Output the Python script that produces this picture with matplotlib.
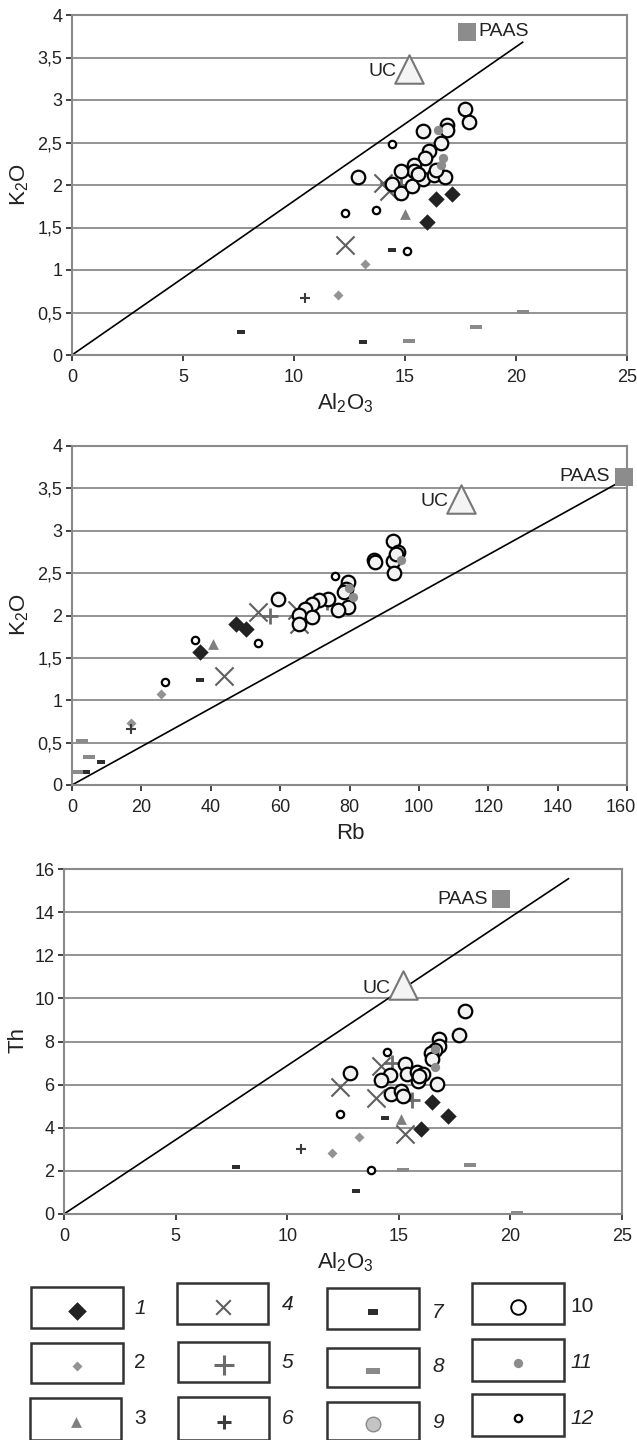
import matplotlib
matplotlib.use("Agg")
import matplotlib.pyplot as plt
import matplotlib.transforms as mtransforms
from matplotlib.patches import Rectangle

plt.rcParams['font.family'] = ['Liberation Sans', 'DejaVu Sans']
plt.rcParams['mathtext.fontset'] = 'custom'
plt.rcParams['mathtext.rm'] = 'Liberation Sans'
plt.rcParams['mathtext.it'] = 'Liberation Sans:italic'
plt.rcParams['mathtext.default'] = 'regular'

# ---------------- DATA ----------------
# Panel A: K2O vs Al2O3
A_s1 = [(16.4, 1.84), (17.1, 1.89), (16.0, 1.56)]
A_s2 = [(13.2, 1.07), (12.0, 0.71)]
A_s3 = [(15.0, 1.66)]
A_s4 = [(12.3, 1.29), (14.0, 2.02), (14.3, 1.93)]
A_s5 = [(14.8, 2.0)]
A_s6 = [(10.5, 0.67)]
A_s7 = [(7.6, 0.27), (13.1, 0.15), (14.4, 1.24)]
A_s8 = [(15.2, 0.16), (18.2, 0.33), (20.3, 0.51)]
A_s10 = [(17.7, 2.89), (17.9, 2.74), (15.8, 2.63), (16.9, 2.71), (16.9, 2.65),
         (16.6, 2.50), (16.1, 2.40), (15.9, 2.32), (15.4, 2.24), (15.4, 2.17),
         (14.8, 2.17), (12.9, 2.09), (14.4, 2.01), (14.8, 1.91), (15.3, 1.99),
         (15.8, 2.07), (16.3, 2.12), (16.8, 2.09), (16.4, 2.18), (15.6, 2.13)]
A_s11 = [(16.5, 2.65), (16.7, 2.32), (16.6, 2.23)]
A_s12 = [(14.4, 2.48), (12.3, 1.67), (13.7, 1.71), (15.1, 1.22)]
A_line = [(0, 0), (20.3, 3.68)]
A_UC = (15.2, 3.37)
A_PAAS = (17.8, 3.8)

# Panel B: K2O vs Rb
B_s1 = [(47.2, 1.90), (50.2, 1.84), (37.0, 1.57)]
B_s2 = [(25.7, 1.07), (16.9, 0.73)]
B_s3 = [(40.7, 1.66)]
B_s4 = [(43.7, 1.29), (53.7, 2.04), (64.9, 2.07), (65.5, 1.90)]
B_s5 = [(57.0, 2.0), (73.5, 2.16)]
B_s6 = [(17.0, 0.66)]
B_s7 = [(37.0, 1.24), (8.3, 0.27), (4.1, 0.15)]
B_s8 = [(3.0, 0.52), (5.0, 0.33), (1.5, 0.15)]
B_s10 = [(92.4, 2.88), (93.9, 2.75), (92.4, 2.64), (92.9, 2.50), (87.0, 2.66),
         (87.3, 2.63), (79.7, 2.40), (79.1, 2.31), (78.3, 2.28), (79.7, 2.10),
         (76.7, 2.06), (73.8, 2.19), (71.2, 2.18), (69.1, 2.13), (67.3, 2.08),
         (65.5, 2.01), (59.4, 2.19), (65.5, 1.90), (69.1, 1.98), (93.5, 2.72)]
B_s11 = [(94.8, 2.65), (79.9, 2.33), (81.1, 2.22)]
B_s12 = [(75.9, 2.47), (35.4, 1.71), (53.7, 1.67), (26.9, 1.22)]
B_line = [(0, 0), (159, 3.6)]
B_UC = (112, 3.38)
B_PAAS = (159, 3.64)

# Panel C: Th vs Al2O3
C_s1 = [(16.5, 5.2), (17.2, 4.55), (16.0, 3.95)]
C_s2 = [(13.2, 3.55), (12.0, 2.85)]
C_s3 = [(15.1, 4.4)]
C_s4 = [(12.35, 5.9), (14.2, 6.85), (14.0, 5.4), (15.3, 3.7)]
C_s5 = [(14.7, 7.0), (15.6, 5.3), (15.3, 10.35)]
C_s6 = [(10.6, 3.0)]
C_s7 = [(7.7, 2.2), (13.1, 1.05), (14.4, 4.45)]
C_s8 = [(15.2, 2.05), (18.2, 2.25), (20.3, 0.05)]
C_s10 = [(17.95, 9.43), (17.7, 8.3), (16.8, 8.1), (16.8, 7.8), (16.6, 7.6),
         (16.45, 7.45), (16.5, 7.2), (12.8, 6.55), (15.3, 6.95), (14.6, 6.45),
         (14.2, 6.2), (15.35, 6.5), (15.8, 6.6), (16.1, 6.5), (15.85, 6.15),
         (16.7, 6.05), (14.65, 5.55), (15.1, 5.7), (15.2, 5.45), (15.9, 6.4)]
C_s11 = [(16.6, 7.65), (16.6, 6.8)]
C_s12 = [(14.45, 7.5), (12.35, 4.65), (13.75, 2.05)]
C_line = [(0, 0), (22.6, 15.55)]
C_UC = (15.2, 10.6)
C_PAAS = (19.6, 14.6)

A_xticks = [0, 5, 10, 15, 20, 25]
B_xticks = [0, 20, 40, 60, 80, 100, 120, 140, 160]
K_yticks = [0, 0.5, 1, 1.5, 2, 2.5, 3, 3.5, 4]
K_yticklabels = ['0', '0,5', '1', '1,5', '2', '2,5', '3', '3,5', '4']
C_yticks = [0, 2, 4, 6, 8, 10, 12, 14, 16]

legend_labels = ['1', '2', '3', '4', '5', '6', '7', '8', '9', '10', '11', '12']

# ---------------- STYLES ----------------
W, H = 637, 1440
rect7 = [(-1, -0.6), (1, -0.6), (1, 0.6), (-1, 0.6)]
rect8 = [(-1, -0.4), (1, -0.4), (1, 0.4), (-1, 0.4)]
STY = {
    1: dict(marker='D', s=70, c='#222222', linewidths=0),
    2: dict(marker='D', s=26, c='#939393', linewidths=0),
    3: dict(marker='^', s=60, c='#7f7f7f', linewidths=0),
    4: dict(marker='x', s=170, c='#5f5f5f', linewidths=1.5),
    5: dict(marker='+', s=130, c='#6a6a6a', linewidths=2.0),
    6: dict(marker='+', s=55, c='#3c3c3c', linewidths=1.5),
    7: dict(marker=rect7, s=30, c='#2e2e2e', linewidths=0),
    8: dict(marker=rect8, s=75, c='#8a8a8a', linewidths=0),
    9: dict(marker='o', s=90, c='#c4c4c4', edgecolors='#8a8a8a', linewidths=1.0),
    10: dict(marker='o', s=95, c='#f2f2f2', edgecolors='black', linewidths=1.6),
    11: dict(marker='o', s=45, c='#8c8c8c', linewidths=0),
    12: dict(marker='o', s=28, c='white', edgecolors='black', linewidths=1.6),
}
GRID = '#8a8a8a'
TICKFS = 13


def fx(px):
    return px / W


def fy(py):
    return 1 - py / H


fig = plt.figure(figsize=(W / 100, H / 100), dpi=100)


def panel(rect_px, series, line, uc, paas, xlim, xticks, ylim, yticks, yticklabels,
          uc_off, paas_off, paas_ha):
    l, t, r, b = rect_px
    ax = fig.add_axes([fx(l), fy(b), fx(r) - fx(l), fy(t) - fy(b)])
    ax.set_xlim(*xlim)
    ax.set_ylim(*ylim)
    ax.set_xticks(xticks)
    ax.set_yticks(yticks)
    ax.set_yticklabels(yticklabels if yticklabels else [str(v) for v in yticks])
    ax.set_xticklabels([str(v) for v in xticks])
    ax.grid(axis='y', color=GRID, lw=1.3)
    ax.set_axisbelow(True)
    for sp in ax.spines.values():
        sp.set_color(GRID)
        sp.set_linewidth(1.5)
    ax.tick_params(axis='both', labelsize=TICKFS, colors='#222222', length=4,
                   width=1.2, direction='out', pad=3)
    ax.tick_params(axis='x', pad=6)
    lx, ly = zip(*line)
    ax.plot(lx, ly, color='black', lw=1.2, zorder=2)
    order = [7, 8, 2, 6, 3, 1, 5, 4, 10, 12, 11]
    for k in order:
        if k in series and series[k]:
            xs, ys = zip(*series[k])
            ax.scatter(xs, ys, zorder=3, **STY[k])
    ax.scatter([uc[0]], [uc[1]], marker='^', s=420, c='#f4f4f4', edgecolors='#777777',
               linewidths=1.5, zorder=4, clip_on=False)
    ax.annotate('UC', uc, xytext=uc_off, textcoords='offset points', ha='right',
                va='center', fontsize=14, color='#222222')
    ax.scatter([paas[0]], [paas[1]], marker='s', s=160, c='#8c8c8c', linewidths=0,
               zorder=4, clip_on=False)
    ax.annotate('PAAS', paas, xytext=paas_off, textcoords='offset points', ha=paas_ha,
                va='center', fontsize=14, color='#222222')
    return ax


panel((72, 15, 627, 355),
      {1: A_s1, 2: A_s2, 3: A_s3, 4: A_s4, 5: A_s5, 6: A_s6, 7: A_s7, 8: A_s8,
       10: A_s10, 11: A_s11, 12: A_s12},
      A_line, A_UC, A_PAAS, (0, 25), A_xticks, (0, 4), K_yticks, K_yticklabels,
      (-9, -2), (8, 0), 'left')
axB = panel((72, 446, 627, 785),
            {1: B_s1, 2: B_s2, 3: B_s3, 4: B_s4, 5: B_s5, 6: B_s6, 7: B_s7, 8: B_s8,
             10: B_s10, 11: B_s11, 12: B_s12},
            B_line, B_UC, B_PAAS, (0, 160), B_xticks, (0, 4), K_yticks, K_yticklabels,
            (-9, -2), (-10, 0), 'right')
# keep the last tick label of panel B inside the figure
last = axB.get_xticklabels()[-1]
last.set_ha('right')
last.set_transform(last.get_transform() +
                   mtransforms.ScaledTranslation(9 / 100, 0, fig.dpi_scale_trans))

panel((64, 869, 622, 1214),
      {1: C_s1, 2: C_s2, 3: C_s3, 4: C_s4, 5: C_s5, 6: C_s6, 7: C_s7, 8: C_s8,
       10: C_s10, 11: C_s11, 12: C_s12},
      C_line, C_UC, C_PAAS, (0, 25), A_xticks, (0, 16), C_yticks, None,
      (-9, -2), (-10, 0), 'right')

# axis titles
LBLFS = 16
fig.text(fx(345), fy(403), r'Al$_2$O$_3$', ha='center', va='center', fontsize=LBLFS, color='#222222')
fig.text(fx(350), fy(833), 'Rb', ha='center', va='center', fontsize=LBLFS, color='#222222')
fig.text(fx(345), fy(1262), r'Al$_2$O$_3$', ha='center', va='center', fontsize=LBLFS, color='#222222')
fig.text(fx(20), fy(185), r'K$_2$O', ha='center', va='center', rotation=90, fontsize=LBLFS, color='#222222')
fig.text(fx(20), fy(615), r'K$_2$O', ha='center', va='center', rotation=90, fontsize=LBLFS, color='#222222')
fig.text(fx(18), fy(1040), 'Th', ha='center', va='center', rotation=90, fontsize=LBLFS, color='#222222')

# ---------------- LEGEND ----------------
lg = fig.add_axes([0, 0, 1, 1], zorder=-1)
lg.set_xlim(0, W)
lg.set_ylim(H, 0)
lg.axis('off')
boxes = {
    1: (31, 1287, 123, 1328), 2: (31, 1343, 123, 1383), 3: (30, 1398, 121, 1440),
    4: (177, 1283, 268, 1324), 5: (178, 1342, 269, 1382), 6: (178, 1397, 269, 1440),
    7: (327, 1288, 419, 1329), 8: (327, 1348, 419, 1387), 9: (327, 1402, 419, 1440),
    10: (472, 1283, 564, 1324), 11: (472, 1339, 564, 1381), 12: (472, 1394, 564, 1436),
}
label_pos = {
    1: (134, 1308), 2: (134, 1362), 3: (134, 1418),
    4: (282, 1304), 5: (282, 1362), 6: (282, 1418),
    7: (432, 1312), 8: (432, 1367), 9: (432, 1423),
    10: (570, 1307), 11: (570, 1362), 12: (570, 1418),
}
upright = {'2', '3', '10'}
leg_sty = {k: dict(v) for k, v in STY.items()}
leg_sty[1]['s'] = 90
leg_sty[4]['s'] = 110
leg_sty[5]['s'] = 200
leg_sty[5]['linewidths'] = 2.2
leg_sty[6]['s'] = 110
leg_sty[6]['linewidths'] = 2.2
leg_sty[7]['s'] = 45
leg_sty[8]['s'] = 90
leg_sty[9]['s'] = 110
leg_sty[10]['s'] = 110
leg_sty[10]['c'] = 'white'
leg_sty[10]['linewidths'] = 1.4
for i, lab in enumerate(legend_labels):
    k = i + 1
    x0, y0, x1, y1 = boxes[k]
    lg.add_patch(Rectangle((x0, y0), x1 - x0, y1 - y0, fill=True, facecolor='white',
                           edgecolor='#333333', lw=1.8, clip_on=False))
    lg.scatter([(x0 + x1) / 2], [(y0 + y1) / 2 + 3], zorder=3, clip_on=False, **leg_sty[k])
    lx, ly = label_pos[k]
    lg.text(lx, ly, lab, ha='left', va='center', fontsize=15,
            style='normal' if lab in upright else 'italic', color='#222222')

fig.savefig('out.png', dpi=100)
